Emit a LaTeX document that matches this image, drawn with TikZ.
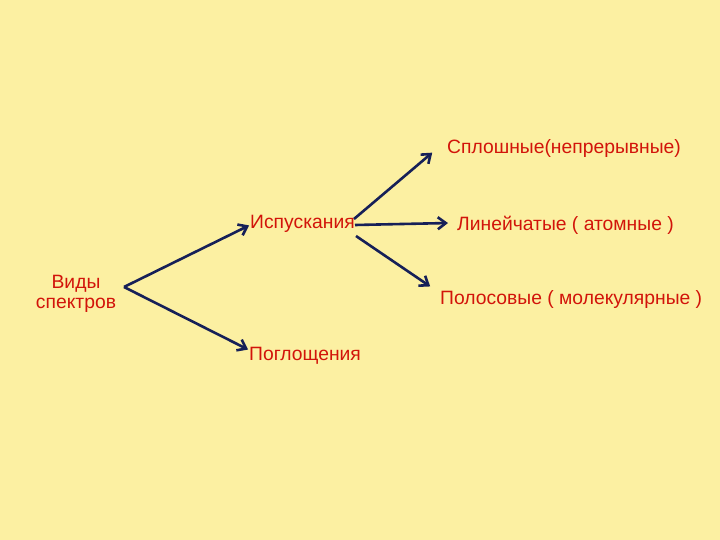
\documentclass[tikz,border=0pt]{standalone}
\usepackage{fontspec}
\setmainfont{Liberation Sans}
\usetikzlibrary{arrows.meta}
\definecolor{bg}{RGB}{252,240,162}
\definecolor{txt}{RGB}{210,20,10}
\definecolor{arr}{RGB}{22,32,88}
\tikzset{
  lbl/.style={text=txt, font=\fontsize{19.3}{20}\selectfont, inner sep=0pt, align=center},
  con/.style={draw=arr, line width=2.6pt, -{Straight Barb[length=8pt,width=12pt,line width=2.6pt]}, shorten >=1pt}
}
\begin{document}
\begin{tikzpicture}[x=1pt,y=-1pt]
\fill[bg] (0,0) rectangle (720,540);
\useasboundingbox (0,0) rectangle (720,540);
\node[lbl] (vid) at (76,294) {Виды\\спектров};
\node[lbl, anchor=west] (isp) at (250,224) {Испускания};
\node[lbl, anchor=west] (pog) at (249,356) {Поглощения};
\node[lbl, anchor=west] (spl) at (447,149) {Сплошные(непрерывные)};
\node[lbl, anchor=west] (lin) at (457,225) {Линейчатые ( атомные )};
\node[lbl, anchor=west] (pol) at (440,300) {Полосовые ( молекулярные )};
\coordinate (v0) at (124,287);
\coordinate (i1) at (354,219);
\coordinate (i2) at (355,225);
\coordinate (i3) at (356,236);
\draw[con] (v0) -- (isp.west |- 0,225) ;
\draw[con] (v0) -- (pog.west |- 0,350);
\draw[con] (i1) -- ([xshift=-14pt]spl.west |- 0,152);
\draw[con] (i2) -- ([xshift=-8pt]lin.west |- 0,223);
\draw[con] (i3) -- ([xshift=-9pt]pol.west |- 0,287);
\end{tikzpicture}
\end{document}
